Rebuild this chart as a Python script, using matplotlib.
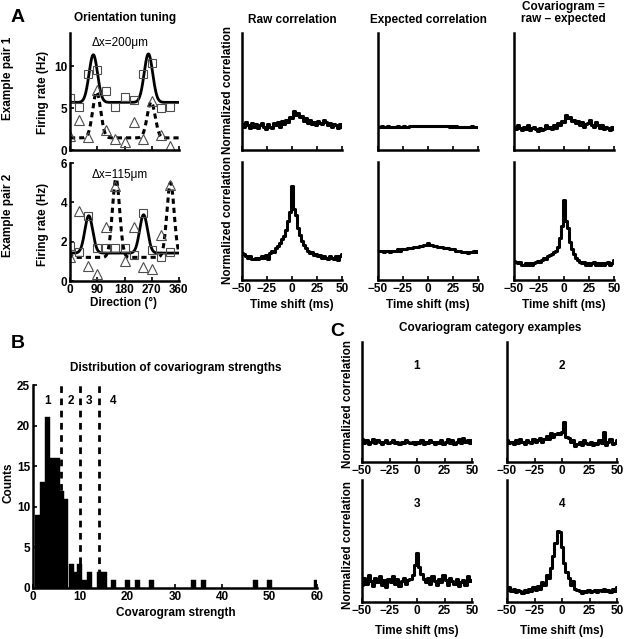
import numpy as np
import matplotlib
matplotlib.use('Agg')
import matplotlib.pyplot as plt

plt.rcParams['font.family'] = ['Liberation Sans', 'DejaVu Sans']
plt.rcParams['font.weight'] = 'bold'
plt.rcParams['axes.labelweight'] = 'bold'
plt.rcParams['axes.titleweight'] = 'bold'

# ---- panel A: orientation tuning (measured points) ----
directions = [0, 30, 60, 90, 120, 150, 180, 210, 240, 270, 300, 330]
pair1_unit1 = [6.2, 5.1, 9.1, 9.6, 7.1, 5.2, 6.3, 6.0, 9.1, 10.4, 5.0, 5.1]
pair1_unit2 = [1.7, 3.6, 1.6, 7.2, 2.4, 1.3, 1.0, 3.4, 1.3, 5.9, 1.8, 0.45]
pair2_unit1 = [1.8, 1.46, 3.28, 1.67, 1.67, 1.67, 1.7, 1.33, 3.45, 1.6, 1.24, 1.46]
pair2_unit2 = [1.24, 3.54, 0.77, 0.36, 2.77, 4.81, 1.04, 2.77, 0.73, 0.6, 2.35, 4.9]

# fitted tuning curves: baseline, (pref dir, amplitude) x2, width
fit_p1u1 = (5.7, [(77, 5.7), (259, 5.8)], 14)
fit_p1u2 = (1.45, [(88, 5.5), (268, 4.3)], 13)
fit_p2u1 = (1.42, [(62, 1.9), (243, 1.95)], 13)
fit_p2u2 = (1.2, [(152, 4.0), (332, 3.8)], 12)

# ---- cross-correlograms (2 ms bins, -50..50 ms) ----
lags = np.arange(-50, 51, 2)
raw_pair1 = [.22, .20, .24, .21, .19, .23, .20, .22, .19, .21, .23, .20, .18, .22, .20, .19, .23,
             .21, .24, .20, .25, .22, .26, .24, .28, .27, .33, .30, .32, .28, .29, .25, .27, .23,
             .26, .22, .24, .21, .25, .23, .22, .26, .24, .21, .23, .20, .22, .21, .19, .22, .20]
exp_pair1 = [.200, .197, .202, .199, .198, .201, .196, .200, .199, .197, .201, .198, .200, .202,
             .199, .200, .203, .201, .204, .202, .205, .203, .206, .204, .207, .206, .205, .207,
             .204, .206, .203, .205, .202, .204, .201, .203, .200, .202, .199, .201, .198, .200,
             .199, .197, .200, .198, .199, .201, .197, .199, .198]
cov_pair1 = [.20, .18, .21, .19, .17, .20, .18, .21, .17, .19, .20, .18, .16, .19, .17, .18, .21,
             .19, .20, .18, .21, .19, .23, .21, .25, .24, .30, .27, .28, .25, .26, .23, .25, .21,
             .24, .20, .22, .23, .26, .21, .20, .24, .21, .19, .21, .18, .20, .19, .17, .20, .18]
raw_pair2 = [.23, .22, .20, .19, .20, .18, .18, .19, .18, .19, .20, .19, .21, .18, .23, .25, .24,
             .27, .29, .31, .35, .37, .42, .50, .58, .80, .60, .55, .44, .38, .33, .30, .27, .25,
             .23, .24, .21, .22, .20, .21, .19, .20, .19, .18, .20, .19, .18, .20, .17, .20, .22]
exp_pair2 = [.25, .25, .25, .24, .25, .25, .24, .25, .25, .25, .26, .25, .26, .26, .26, .27, .27,
             .27, .28, .28, .28, .29, .29, .30, .30, .31, .30, .30, .29, .29, .28, .28, .28, .27,
             .27, .27, .26, .26, .26, .25, .25, .25, .24, .24, .24, .23, .24, .24, .25, .24, .25]
cov_pair2 = [.16, .15, .14, .15, .13, .13, .14, .13, .14, .13, .14, .15, .16, .15, .17, .19, .18,
             .20, .21, .22, .24, .25, .28, .36, .46, .68, .50, .44, .32, .26, .22, .19, .17, .15,
             .14, .15, .13, .14, .13, .14, .15, .13, .14, .13, .14, .13, .14, .15, .13, .14, .17]

# ---- panel B: histogram of covariogram strengths ----
strength_bins = [0.9, 1.95, 3.1, 4.15, 5.1, 6.0, 6.95, 8.1, 9.0, 9.9, 10.9, 12.0, 14.0, 15.0,
                 17.0, 20.0, 22.0, 25.0, 34.0, 36.0, 47.0, 50.0, 60.0]
strength_counts = [9, 13, 21, 16, 16, 12, 11, 3, 2, 3, 1, 2, 2, 2, 1, 1, 1, 1, 1, 1, 1, 1, 1]
category_bounds = [6, 10, 14]
category_labels = ['1', '2', '3', '4']
category_label_x = [3.0, 7.9, 11.9, 16.9]

# ---- panel C: category examples ----
cat1 = [.19, .16, .18, .15, .17, .19, .16, .18, .17, .15, .17, .18, .16, .17, .18, .16, .17,
        .15, .17, .16, .18, .17, .16, .17, .15, .17, .16, .18, .15, .17, .16, .18, .17, .15,
        .17, .16, .18, .15, .17, .19, .16, .18, .15, .17, .19, .16, .20, .17, .18, .16, .18]
cat2 = [.18, .16, .17, .15, .18, .16, .19, .17, .15, .18, .17, .16, .19, .17, .18, .20, .17,
        .19, .22, .19, .24, .21, .23, .24, .23, .25, .33, .21, .20, .17, .18, .13, .15, .17,
        .14, .18, .16, .15, .17, .14, .16, .15, .18, .16, .25, .14, .17, .19, .15, .16, .18]
cat3 = [.14, .20, .15, .22, .17, .13, .20, .16, .21, .14, .18, .12, .19, .16, .21, .15, .19,
        .13, .17, .20, .15, .18, .19, .22, .30, .40, .29, .23, .19, .16, .20, .15, .21, .17,
        .14, .19, .16, .22, .18, .14, .20, .17, .15, .19, .13, .16, .18, .14, .21, .17, .18]
cat4 = [.10, .12, .09, .11, .08, .10, .09, .07, .10, .08, .11, .09, .12, .10, .13, .11, .16,
        .14, .22, .20, .28, .38, .48, .58, .57, .45, .32, .25, .20, .14, .17, .11, .10, .09,
        .07, .09, .08, .10, .08, .09, .10, .08, .10, .09, .11, .09, .10, .08, .11, .09, .12]

W, H = 624, 639
fig = plt.figure(figsize=(W / 100, H / 100), dpi=100)


def px_axes(x0, y0, x1, y1):
    return fig.add_axes([x0 / W, 1 - y1 / H, (x1 - x0) / W, (y1 - y0) / H])


def px_text(x, y, s, **kw):
    kw.setdefault('ha', 'center')
    kw.setdefault('va', 'center')
    kw.setdefault('fontsize', 8.5)
    fig.text(x / W, 1 - y / H, s, **kw)


def style(ax):
    for s in ['top', 'right']:
        ax.spines[s].set_visible(False)
    for s in ['left', 'bottom']:
        ax.spines[s].set_linewidth(1.8)
    ax.tick_params(direction='in', length=3, width=1.2, labelsize=8.5, pad=2)


def tuning_fit(theta, fit):
    base, peaks, sd = fit
    y = np.full_like(theta, base, dtype=float)
    for mu, amp in peaks:
        d = (theta - mu + 180) % 360 - 180
        y += amp * np.exp(-d ** 2 / (2 * sd ** 2))
    return y


theta = np.linspace(0, 360, 721)


def tuning_panel(ax, u1, u2, f1, f2, ylim, yticks):
    ax.plot(theta, tuning_fit(theta, f1), color='black', lw=2.0)
    ax.plot(theta, tuning_fit(theta, f2), color='black', lw=2.2, dashes=(1.7, 1.3))
    ax.plot(directions, u1, 's', ms=6, mfc='none', mec='0.3', mew=0.8)
    ax.plot(directions, u2, '^', ms=7, mfc='none', mec='0.3', mew=0.8)
    ax.set_xlim(0, 360)
    ax.set_ylim(*ylim)
    ax.set_xticks([0, 90, 180, 270, 360])
    ax.set_yticks(yticks)
    style(ax)


# ---- A: tuning ----
axt1 = px_axes(70, 33, 179, 150)
tuning_panel(axt1, pair1_unit1, pair1_unit2, fit_p1u1, fit_p1u2, (0, 14), [0, 5, 10])
axt1.set_xticklabels([])
axt2 = px_axes(70, 163, 179, 281)
tuning_panel(axt2, pair2_unit1, pair2_unit2, fit_p2u1, fit_p2u2, (0, 6), [0, 2, 4, 6])

px_text(18, 18, 'A', fontsize=14)
px_text(125, 18, 'Orientation tuning')
px_text(120, 43, 'Δx=200μm', fontweight='normal')
px_text(120, 175, 'Δx=115μm', fontweight='normal')
px_text(8, 78, 'Example pair 1', rotation=90)
px_text(8, 215, 'Example pair 2', rotation=90)
px_text(43, 92, 'Firing rate (Hz)', rotation=90)
px_text(43, 224, 'Firing rate (Hz)', rotation=90)
px_text(124, 303, 'Direction (°)')

# ---- A: correlograms ----
col_x = [(242, 342), (378, 478), (514, 614)]
rows_y = [(33, 150), (162, 280)]
traces = [[raw_pair1, exp_pair1, cov_pair1], [raw_pair2, exp_pair2, cov_pair2]]
for r, (y0, y1) in enumerate(rows_y):
    for c, (x0, x1) in enumerate(col_x):
        ax = px_axes(x0, y0, x1, y1)
        ax.plot(lags, traces[r][c], color='black', lw=2.2, drawstyle='steps-mid')
        ax.set_xlim(-50, 50)
        ax.set_ylim(0, 1)
        ax.set_xticks([-50, -25, 0, 25, 50])
        ax.set_yticks([])
        style(ax)
        if r == 0:
            ax.set_xticklabels([])

px_text(292, 20, 'Raw correlation')
px_text(428, 20, 'Expected correlation')
px_text(563, 13, 'Covariogram =\nraw – expected', linespacing=1.0)
px_text(228, 90, 'Normalized correlation', rotation=90)
px_text(228, 220, 'Normalized correlation', rotation=90)
for x0, x1 in col_x:
    px_text((x0 + x1) / 2, 305, 'Time shift (ms)')

# ---- B: histogram ----
axh = px_axes(33, 385, 317, 588)
axh.bar(strength_bins, strength_counts, width=1.06, color='black', edgecolor='black', lw=0.3)
for b in category_bounds:
    axh.axvline(b, color='black', lw=2.0, dashes=(2.4, 2.0))
for x, s in zip(category_label_x, category_labels):
    axh.text(x, 23, s, ha='center', va='center', fontsize=8.5)
axh.set_xlim(0, 60)
axh.set_ylim(0, 25)
axh.set_xticks(range(0, 61, 10))
axh.set_yticks(range(0, 26, 5))
style(axh)
px_text(18, 343, 'B', fontsize=14)
px_text(176, 368, 'Distribution of covariogram strengths')
px_text(8, 483, 'Counts', rotation=90)
px_text(176, 613, 'Covarogram strength')

# ---- C: category examples ----
cat_traces = [cat1, cat2, cat3, cat4]
cat_boxes = [(362, 342, 472, 462), (507, 342, 617, 462),
             (362, 480, 472, 602), (507, 480, 617, 602)]
for i, (tr, box) in enumerate(zip(cat_traces, cat_boxes)):
    ax = px_axes(*box)
    ax.plot(lags, tr, color='black', lw=2.2, drawstyle='steps-mid')
    ax.set_xlim(-50, 50)
    ax.set_ylim(0, 1)
    ax.set_xticks([-50, -25, 0, 25, 50])
    ax.set_yticks([])
    style(ax)
    ax.text(0, 0.8, category_labels[i], ha='center', va='center', fontsize=8.5)

px_text(337, 332, 'C', fontsize=14)
px_text(490, 328, 'Covariogram category examples')
px_text(348, 404, 'Normalized correlation', rotation=90)
px_text(348, 545, 'Normalized correlation', rotation=90)
px_text(417, 631, 'Time shift (ms)')
px_text(562, 631, 'Time shift (ms)')

fig.savefig('out.png', dpi=100)
